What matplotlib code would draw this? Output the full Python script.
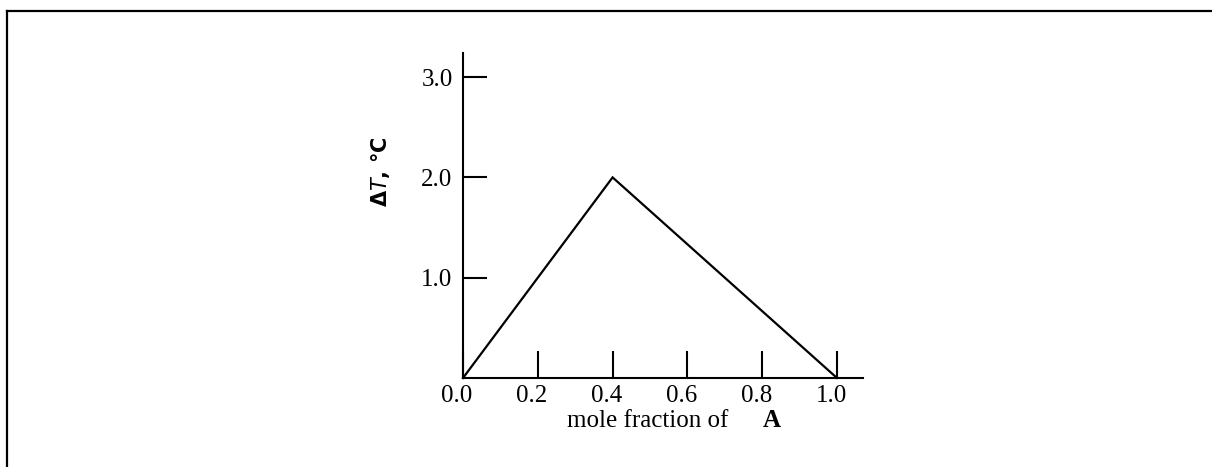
import matplotlib
matplotlib.use("Agg")
import matplotlib.pyplot as plt
from matplotlib.lines import Line2D
import matplotlib.transforms as mtransforms

# data
mole_fraction = [0.0, 0.4, 1.0]
delta_T = [0.0, 2.0, 0.0]
xtick_vals = [0.0, 0.2, 0.4, 0.6, 0.8, 1.0]
xtick_labels = ["0.0", "0.2", "0.4", "0.6", "0.8", "1.0"]
ytick_vals = [1.0, 2.0, 3.0]
ytick_labels = ["1.0", "2.0", "3.0"]

plt.rcParams['font.family'] = ['Liberation Serif', 'DejaVu Serif']

W, H = 1212, 467
fig = plt.figure(figsize=(W / 100, H / 100), dpi=100)
fig.patch.set_facecolor('white')

ax = fig.add_axes([463 / W, (H - 378) / H, 400 / W, 325 / H])
ax.plot(mole_fraction, delta_T, color='black', lw=1.6, solid_joinstyle='miter', clip_on=False)
ax.set_xlim(0, 400 / 374)
ax.set_ylim(0, 325 / 100.3)

for s in ['top', 'right']:
    ax.spines[s].set_visible(False)
for s in ['left', 'bottom']:
    ax.spines[s].set_linewidth(1.5)

ax.set_xticks(xtick_vals)
ax.set_xticklabels(xtick_labels)
ax.set_yticks(ytick_vals)
ax.set_yticklabels(ytick_labels)
ax.tick_params(axis='x', direction='in', length=19.5, width=1.5, pad=5, labelsize=18)
ax.tick_params(axis='y', direction='in', length=17.3, width=1.5, pad=7.5, labelsize=18)

shift = mtransforms.ScaledTranslation(-6 / 100, 0, fig.dpi_scale_trans)
for lbl in ax.get_xticklabels():
    lbl.set_transform(lbl.get_transform() + shift)

ax.text(0.26, -0.151, "mole fraction of", transform=ax.transAxes,
        ha='left', va='baseline', fontsize=18)
ax.text(0.75, -0.151, "A", transform=ax.transAxes,
        ha='left', va='baseline', fontsize=18, fontweight='bold')

fig.text(380 / W, 1 - 172 / H, "Δ$\\mathit{T}$, °C", rotation=90, ha='center', va='center',
         fontsize=15, fontweight='bold', family=['DejaVu Sans'])

# figure border (top and left)
fig.add_artist(Line2D([7 / W, 1], [1 - 11 / H, 1 - 11 / H], color='black', lw=1.6,
                      transform=fig.transFigure))
fig.add_artist(Line2D([7 / W, 7 / W], [0, 1 - 11 / H], color='black', lw=1.6,
                      transform=fig.transFigure))

fig.savefig("out.png", dpi=100, facecolor='white')
